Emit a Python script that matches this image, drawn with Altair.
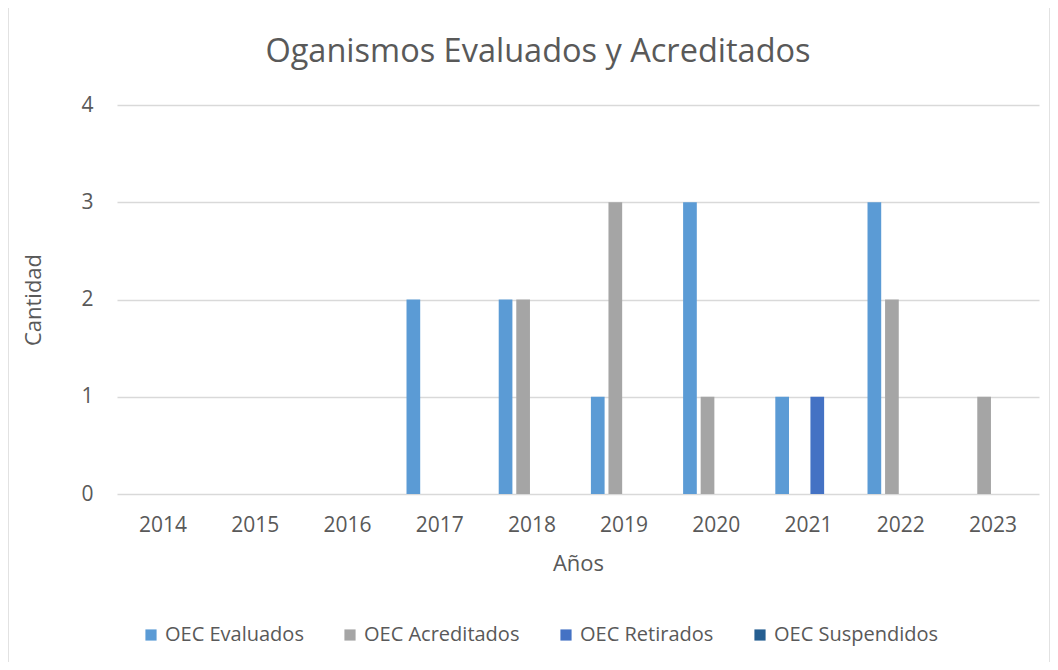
import altair as alt
import pandas as pd

years = ["2014", "2015", "2016", "2017", "2018", "2019", "2020", "2021", "2022", "2023"]
series = ["OEC Evaluados", "OEC Acreditados", "OEC Retirados", "OEC Suspendidos"]
evaluados = [0, 0, 0, 2, 2, 1, 3, 1, 3, 0]
acreditados = [0, 0, 0, 0, 2, 3, 1, 0, 2, 1]
retirados = [0, 0, 0, 0, 0, 0, 0, 1, 0, 0]
suspendidos = [0, 0, 0, 0, 0, 0, 0, 0, 0, 0]
colors = ["#5B9BD5", "#A5A5A5", "#4472C4", "#255E91"]
title_text = "Oganismos Evaluados y Acreditados"

rows = []
for name, vals in zip(series, [evaluados, acreditados, retirados, suspendidos]):
    for y, v in zip(years, vals):
        rows.append({"Año": y, "Serie": name, "Cantidad": v})
df = pd.DataFrame(rows)

FONT = "Open Sans"
TXT = "#595959"

bars = alt.Chart(df).mark_bar().encode(
    x=alt.X("Año:N", sort=years,
            scale=alt.Scale(paddingInner=0.28, paddingOuter=0.14),
            axis=alt.Axis(title="Años", labelAngle=0, labelFontSize=21, labelColor=TXT,
                          labelFont=FONT, titleFont=FONT, titleFontSize=22,
                          titleColor=TXT, titleFontWeight="normal", domain=False,
                          ticks=False, labelPadding=20, titlePadding=18, grid=False)),
    xOffset=alt.XOffset("Serie:N", sort=series, scale=alt.Scale(paddingInner=0.22)),
    y=alt.Y("Cantidad:Q", scale=alt.Scale(domain=[0, 4]),
            axis=alt.Axis(title="Cantidad", values=[0, 1, 2, 3, 4], labelFontSize=21,
                          labelColor=TXT, labelFont=FONT, titleFont=FONT,
                          titleFontSize=22, titleColor=TXT, titleFontWeight="normal",
                          domain=False, ticks=False, labelPadding=24, titlePadding=35,
                          gridColor="#D9D9D9", gridWidth=1.3)),
    color=alt.Color("Serie:N", sort=series,
                    scale=alt.Scale(domain=series, range=colors),
                    legend=alt.Legend(title=None, orient="none", direction="horizontal",
                                      legendX=24, legendY=520, symbolType="square",
                                      symbolSize=125, symbolStrokeWidth=0,
                                      labelFont=FONT, labelFontSize=20, labelColor=TXT,
                                      labelLimit=400, columnPadding=36, labelOffset=4)),
)

border = alt.Chart(pd.DataFrame({"a": [0]})).mark_rect(
    fill=None, stroke="#D9D9D9", strokeWidth=1.5, clip=False
).encode(x=alt.value(-109), x2=alt.value(933), y=alt.value(-99), y2=alt.value(560))

title = alt.Chart(pd.DataFrame({"t": [title_text]})).mark_text(
    font=FONT, fontSize=32.5, color=TXT, align="center", baseline="alphabetic"
).encode(text="t:N", x=alt.value(421), y=alt.value(-43))

chart = alt.layer(border, bars, title).properties(
    width=922, height=389,
    autosize=alt.AutoSizeParams(type="none"),
    padding={"left": 109, "top": 97, "right": 11, "bottom": 168},
).configure_view(stroke=None)

chart.save("out.html", embed_options={"renderer": "svg", "actions": False})
